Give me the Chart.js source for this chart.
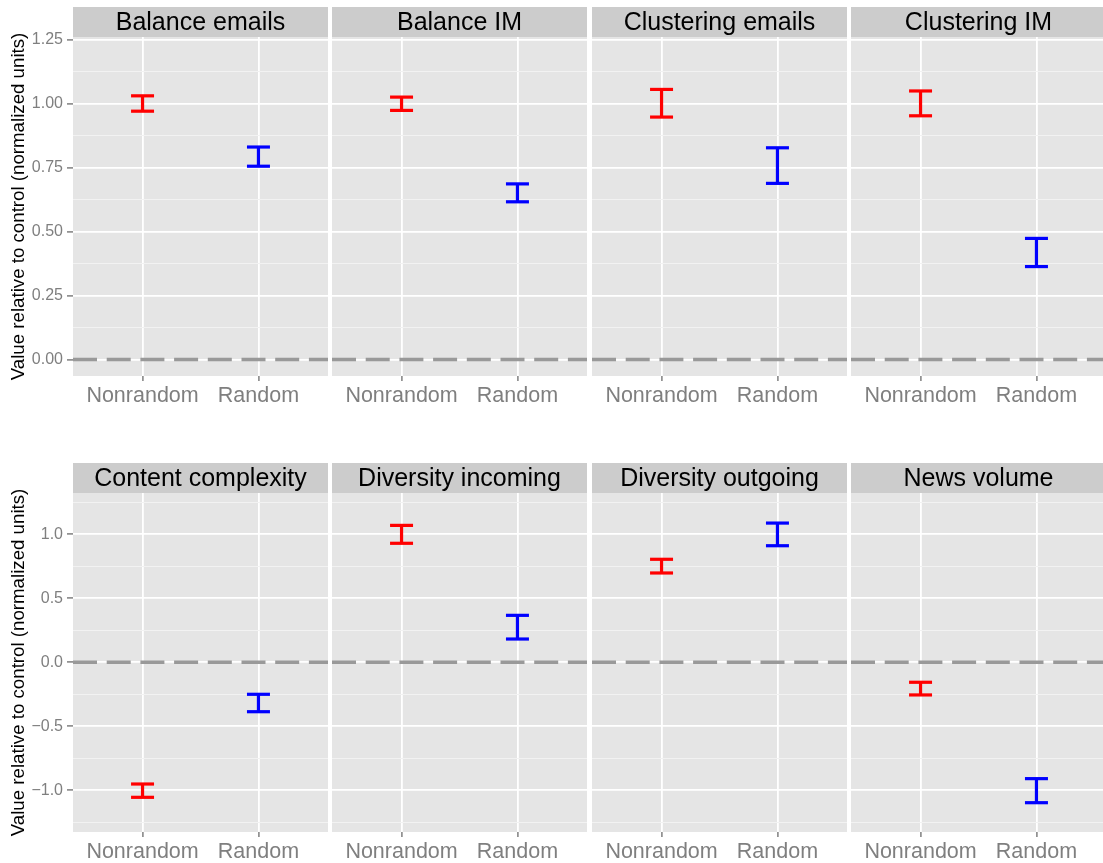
<!DOCTYPE html>
<html>
<head>
<meta charset="utf-8">
<script src="https://cdn.jsdelivr.net/npm/chart.js@4.4.0/dist/chart.umd.min.js"></script>
<style>
  html, body { margin: 0; padding: 0; background: #fff; overflow: hidden; width: 1103px; height: 863px; }
  .panel { position: absolute; }
</style>
</head>
<body>
<script>
// facet titles, left to right, top row then bottom row
const facets = ['Balance emails', 'Balance IM', 'Clustering emails', 'Clustering IM',
  'Content complexity', 'Diversity incoming', 'Diversity outgoing', 'News volume'];
const groups = ['Nonrandom', 'Random'];

// error bar ends
const nonrandomLow  = [0.970, 0.973, 0.947, 0.952, -1.055, 0.930, 0.698, -0.255];
const nonrandomHigh = [1.030, 1.025, 1.055, 1.049, -0.951, 1.070, 0.805, -0.156];
const randomLow     = [0.755, 0.616, 0.688, 0.363, -0.386, 0.182, 0.911, -1.097];
const randomHigh    = [0.830, 0.686, 0.827, 0.473, -0.250, 0.367, 1.088, -0.909];

const topMajor = [0, 0.25, 0.5, 0.75, 1, 1.25];
const topMinor = [0.125, 0.375, 0.625, 0.875, 1.125];
const topLabels = ['0.00', '0.25', '0.50', '0.75', '1.00', '1.25'];
const topRange = [-0.0645, 1.2598];

const bottomMajor = [-1, -0.5, 0, 0.5, 1];
const bottomMinor = [-1.25, -0.75, -0.25, 0.25, 0.75, 1.25];
const bottomLabels = ['\u22121.0', '\u22120.5', '0.0', '0.5', '1.0'];
const bottomRange = [-1.326, 1.323];

const FONT = '"Liberation Sans", Arial, Helvetica, sans-serif';
Chart.defaults.font.family = FONT;

const colLeft = [73, 332, 592, 851];
const rowTop = [7, 463];
const panelW = 255, panelH = 339, stripH = 30, xAxisH = 40, yAxisW = 73;

const stripPlugin = {
  id: 'strip',
  beforeDraw(chart, args, opts) {
    const { ctx, chartArea: a } = chart;
    ctx.save();
    ctx.fillStyle = '#E5E5E5';
    ctx.fillRect(a.left, a.top, a.right - a.left, a.bottom - a.top);
    ctx.fillStyle = '#CCCCCC';
    ctx.fillRect(a.left, a.top - stripH, a.right - a.left, stripH);
    ctx.fillStyle = '#000';
    ctx.font = '25px ' + FONT;
    ctx.textAlign = 'center';
    ctx.textBaseline = 'middle';
    ctx.fillText(opts.label, (a.left + a.right) / 2, a.top - stripH / 2 + 1);
    ctx.restore();
  }
};

function errorBar(x, lo, hi, colour) {
  return {
    data: [{ x: x, y: lo }, { x: x, y: hi }],
    borderColor: colour,
    borderWidth: 3.2,
    pointStyle: 'line',
    pointRadius: 11.5,
    pointBorderWidth: 3.2,
    pointBorderColor: colour,
    pointBackgroundColor: colour
  };
}

function makePanel(i) {
  const row = Math.floor(i / 4), col = i % 4;
  const first = col === 0;
  const major = row === 0 ? topMajor : bottomMajor;
  const minor = row === 0 ? topMinor : bottomMinor;
  const labels = row === 0 ? topLabels : bottomLabels;
  const range = row === 0 ? topRange : bottomRange;
  const isMajor = v => major.some(m => Math.abs(m - v) < 1e-9);

  const div = document.createElement('div');
  div.className = 'panel';
  const w = first ? yAxisW + panelW : panelW;
  const h = stripH + panelH + xAxisH;
  div.style.left = (first ? 0 : colLeft[col]) + 'px';
  div.style.top = rowTop[row] + 'px';
  const canvas = document.createElement('canvas');
  canvas.width = w;
  canvas.height = h;
  div.appendChild(canvas);
  document.body.appendChild(div);

  new Chart(canvas, {
    type: 'line',
    data: {
      datasets: [
        errorBar(1, nonrandomLow[i], nonrandomHigh[i], '#FF0000'),
        errorBar(2, randomLow[i], randomHigh[i], '#0000FF'),
        {
          data: [{ x: 0.4, y: 0 }, { x: 2.6, y: 0 }],
          borderColor: '#999999',
          borderWidth: 3.5,
          borderDash: [24, 9.7],
          pointRadius: 0
        }
      ]
    },
    options: {
      responsive: false,
      animation: false,
      events: [],
      layout: { autoPadding: false, padding: { top: stripH, left: 0, right: 0, bottom: 0 } },
      plugins: {
        legend: { display: false },
        tooltip: { enabled: false },
        strip: { label: facets[i] }
      },
      scales: {
        x: {
          type: 'linear',
          min: 0.4,
          max: 2.6,
          afterBuildTicks: s => { s.ticks = [{ value: 1 }, { value: 2 }]; },
          afterFit: s => { s.height = xAxisH; s.paddingLeft = 0; s.paddingRight = 0; },
          ticks: {
            callback: v => groups[Math.round(v) - 1] || '',
            color: '#7F7F7F',
            font: { size: 21.5 },
            padding: 2,
            maxRotation: 0,
            autoSkip: false
          },
          grid: { color: '#FFFFFF', lineWidth: 1.8, tickColor: '#7F7F7F', tickLength: 5, tickWidth: 1.5 },
          border: { display: false }
        },
        y: {
          type: 'linear',
          min: range[0],
          max: range[1],
          afterBuildTicks: s => {
            s.ticks = major.concat(minor).sort((a, b) => a - b).map(v => ({ value: v }));
          },
          afterFit: s => { s.width = first ? yAxisW : 0; s.paddingTop = 0; s.paddingBottom = 0; },
          ticks: {
            display: first,
            callback: v => {
              const k = major.findIndex(m => Math.abs(m - v) < 1e-9);
              return k >= 0 ? labels[k] : '';
            },
            color: '#7F7F7F',
            font: { size: 16 },
            padding: 4,
            autoSkip: false
          },
          grid: {
            color: ctx => isMajor(ctx.tick.value) ? '#FFFFFF' : '#F2F2F2',
            lineWidth: ctx => isMajor(ctx.tick.value) ? 1.8 : 1,
            drawTicks: first,
            tickLength: 6,
            tickWidth: 1.5,
            tickColor: ctx => isMajor(ctx.tick.value) ? '#7F7F7F' : 'rgba(0,0,0,0)'
          },
          border: { display: false },
          title: {
            display: first,
            text: 'Value relative to control (normalized units)',
            color: '#000000',
            font: { size: 18.7 },
            padding: { top: 8, bottom: 0 }
          }
        }
      }
    },
    plugins: [stripPlugin]
  });
}

for (let i = 0; i < facets.length; i++) makePanel(i);
</script>
</body>
</html>
